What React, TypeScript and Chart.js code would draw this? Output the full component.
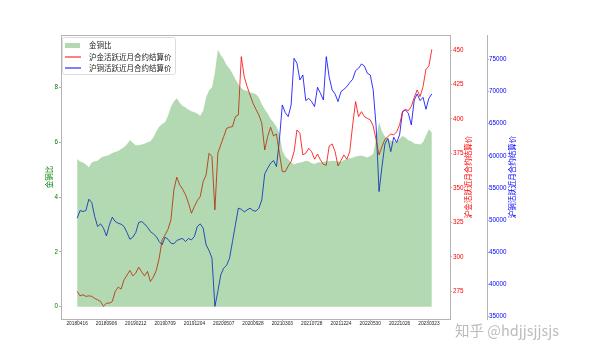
import React, { useEffect, useRef } from 'react';
import { Chart, registerables } from 'chart.js';

Chart.register(...registerables);

// x-axis tick labels, one every 100 trading days starting at index 0
const tickLabels = [
  '20180416', '20180906', '20190212', '20190709', '20191204', '20200507', '20200928',
  '20210303', '20210728', '20211224', '20220530', '20221026', '20230323',
];
const ratioTicks = [0, 2, 4, 6, 8];
const goldTicks = [275, 300, 325, 350, 375, 400, 425, 450];
const copperTicks = [35000, 40000, 45000, 50000, 55000, 60000, 65000, 70000, 75000];

// one sample every STEP trading days
const STEP = 10;

// 金铜比 (gold / copper ratio)
const goldCopperRatio = [
  5.39, 5.30, 5.26, 5.19, 5.09, 5.26, 5.31, 5.33, 5.43, 5.48,
  5.50, 5.55, 5.61, 5.65, 5.68, 5.76, 5.82, 5.93, 6.08, 5.99,
  5.89, 5.89, 5.92, 5.95, 6.00, 6.04, 6.18, 6.40, 6.57, 6.67,
  6.73, 6.97, 7.30, 7.49, 7.61, 7.45, 7.33, 7.27, 7.19, 7.14,
  7.10, 7.05, 6.97, 7.15, 7.64, 7.90, 8.00, 8.55, 9.38, 9.19,
  9.03, 8.82, 8.70, 8.51, 8.30, 8.12, 7.98, 7.90, 7.88, 7.82,
  7.79, 7.76, 7.64, 7.39, 7.21, 7.05, 6.85, 6.73, 6.57, 6.33,
  5.70, 5.48, 5.37, 5.27, 5.19, 5.24, 5.26, 5.28, 5.33, 5.31,
  5.24, 5.21, 5.26, 5.27, 5.28, 5.31, 5.31, 5.33, 5.32, 5.30,
  5.28, 5.36, 5.39, 5.42, 5.44, 5.48, 5.50, 5.52, 5.48, 5.45,
  5.50, 5.58, 6.12, 6.73, 6.40, 6.21, 6.11, 6.06, 6.04, 6.01,
  6.12, 6.23, 6.18, 6.08, 6.04, 5.96, 5.94, 5.92, 6.00, 6.24,
  6.48, 6.36,
];

// 沪金活跃近月合约结算价
const goldPrice = [
  274.9, 271.7, 272.5, 271.3, 271.7, 271.3, 269.8, 268.8, 267.6, 264.0,
  266.4, 266.4, 267.6, 274.9, 278.0, 276.6, 283.3, 286.7, 290.1, 286.2,
  288.2, 292.5, 289.1, 286.2, 289.4, 282.1, 285.3, 290.1, 299.0, 312.3,
  315.9, 320.0, 326.8, 348.6, 357.7, 352.2, 349.0, 344.9, 338.9, 331.6,
  336.5, 340.8, 343.7, 354.6, 359.4, 375.1, 372.7, 334.1, 375.1, 381.2,
  387.2, 393.2, 394.0, 394.4, 401.7, 402.9, 445.2, 430.7, 423.4, 417.4,
  411.4, 407.0, 402.9, 396.9, 377.5, 387.2, 394.0, 387.7, 389.1, 375.1,
  361.8, 361.8, 365.9, 369.1, 376.3, 392.0, 389.6, 373.9, 375.1, 378.7,
  376.3, 370.8, 374.6, 370.3, 367.1, 366.4, 380.4, 381.9, 376.3, 365.9,
  369.8, 373.9, 370.8, 376.3, 395.7, 412.6, 401.7, 405.3, 401.7, 400.5,
  399.3, 394.9, 384.8, 373.9, 380.0, 385.3, 387.2, 389.1, 388.4, 390.6,
  395.7, 405.3, 407.0, 406.0, 409.0, 415.7, 421.0, 416.2, 423.4, 436.0,
  438.4, 450.5,
];

// 沪铜活跃近月合约结算价
const copperPrice = [
  50306, 51497, 51341, 51497, 53257, 52739, 50565, 49012, 49426, 48753,
  47562, 49271, 50461, 49788, 49529, 49374, 49012, 48080, 47045, 47355,
  48080, 49633, 49788, 49426, 48908, 48235, 47873, 47459, 46682, 46164,
  47355, 47045, 46423, 46320, 46837, 47045, 47148, 46682, 47148, 46941,
  47459, 49012, 49426, 48753, 46164, 45284, 44094, 36600, 38917, 41505,
  42541, 43006, 44094, 46682, 49271, 51859, 51704, 51290, 51600, 51859,
  51497, 51393, 51859, 53153, 57191, 58072, 58848, 59262, 58330, 62472,
  67908, 66717, 66096, 67908, 75156, 74379, 71791, 72567, 68581, 68943,
  68426, 67649, 70652, 69720, 68684, 75414, 72205, 70237, 69616, 68426,
  69979, 70341, 70755, 71376, 71894, 73240, 73603, 74276, 73965, 72826,
  72567, 70237, 64543, 54448, 58330, 61851, 62731, 60660, 62886, 62058,
  63249, 66872, 67131, 66614, 64802, 68684, 69616, 68581, 69099, 67235,
  68943, 69616,
];

const seriesNames = ['金铜比', '沪金活跃近月合约结算价', '沪铜活跃近月合约结算价'];

const CJK = '"Noto Sans CJK SC", "DejaVu Sans", sans-serif';
const NUM = '"Liberation Sans", "DejaVu Sans", sans-serif';
const SPINE = '#b4b4b4';
const GREEN = '#008000';
const FILL = 'rgba(0,128,0,0.3)';
const RED = '#ff0000';
const BLUE = '#0000ff';

export default function App() {
  const ref = useRef<HTMLCanvasElement>(null);

  useEffect(() => {
    if (!ref.current) return;
    const toPts = (arr: number[]) => arr.map((v, i) => ({ x: i * STEP, y: v }));
    const fixTicks = (vals: number[]) => (s: any) => {
      s.ticks = vals.map((v) => ({ value: v }));
    };

    const overlay = {
      id: 'overlay',
      afterDraw(chart: any) {
        const { ctx, chartArea: ca, scales } = chart;
        ctx.save();
        // top spine
        ctx.strokeStyle = SPINE;
        ctx.lineWidth = 1;
        ctx.beginPath();
        ctx.moveTo(ca.left, Math.round(ca.top) + 0.5);
        ctx.lineTo(ca.right, Math.round(ca.top) + 0.5);
        ctx.stroke();

        // axis titles (rotated, reading bottom to top)
        const vTitle = (text: string, x: number, color: string) => {
          ctx.save();
          ctx.translate(x, (ca.top + ca.bottom) / 2);
          ctx.rotate(-Math.PI / 2);
          ctx.fillStyle = color;
          ctx.font = `7.5px ${CJK}`;
          ctx.textAlign = 'center';
          ctx.textBaseline = 'middle';
          ctx.fillText(text, 0, 0);
          ctx.restore();
        };
        vTitle(seriesNames[0], 49.5, GREEN);
        vTitle(seriesNames[1], scales.y1.left + 18.5, RED);
        vTitle(seriesNames[2], scales.y2.left + 25.5, BLUE);

        // legend (upper left inside the plot)
        const lx = ca.left + 1;
        const ly = ca.top + 2;
        ctx.fillStyle = 'rgba(255,255,255,0.8)';
        ctx.strokeStyle = '#dcdcdc';
        ctx.beginPath();
        (ctx as any).roundRect(lx + 0.5, ly + 0.5, 113, 37, 2);
        ctx.fill();
        ctx.stroke();
        ctx.fillStyle = FILL;
        ctx.fillRect(lx + 3, ly + 6, 15, 5);
        ctx.lineWidth = 1;
        ctx.strokeStyle = RED;
        ctx.beginPath();
        ctx.moveTo(lx + 3, ly + 20);
        ctx.lineTo(lx + 19, ly + 20);
        ctx.stroke();
        ctx.strokeStyle = BLUE;
        ctx.beginPath();
        ctx.moveTo(lx + 3, ly + 31);
        ctx.lineTo(lx + 19, ly + 31);
        ctx.stroke();
        ctx.fillStyle = '#222';
        ctx.font = `7.5px ${CJK}`;
        ctx.textAlign = 'left';
        ctx.textBaseline = 'middle';
        ctx.fillText(seriesNames[0], lx + 27, ly + 8.5);
        ctx.fillText(seriesNames[1], lx + 27, ly + 20);
        ctx.fillText(seriesNames[2], lx + 27, ly + 31);

        // watermark
        ctx.font = `14.5px ${CJK}`;
        ctx.fillStyle = 'rgba(175,175,175,0.85)';
        ctx.textAlign = 'left';
        ctx.textBaseline = 'middle';
        ctx.fillText('知乎 @hdjjsjjsjs', 455, 330);
        ctx.restore();
      },
    };

    const tickFont = { family: NUM, size: 6.3 };
    const plain = (v: any) => String(v);

    const chart = new Chart(ref.current, {
      type: 'line',
      data: {
        datasets: [
          {
            label: seriesNames[0],
            data: toPts(goldCopperRatio),
            yAxisID: 'y',
            fill: 'origin',
            backgroundColor: FILL,
            borderWidth: 0,
            borderColor: 'rgba(0,0,0,0)',
            pointRadius: 0,
            tension: 0,
          },
          {
            label: seriesNames[1],
            data: toPts(goldPrice),
            yAxisID: 'y1',
            fill: false,
            borderColor: RED,
            borderWidth: 0.8,
            pointRadius: 0,
            tension: 0,
          },
          {
            label: seriesNames[2],
            data: toPts(copperPrice),
            yAxisID: 'y2',
            fill: false,
            borderColor: BLUE,
            borderWidth: 0.8,
            pointRadius: 0,
            tension: 0,
          },
        ],
      },
      options: {
        responsive: false,
        animation: false,
        events: [],
        layout: { padding: { top: 35, left: 0, right: 0, bottom: 0 } },
        plugins: { legend: { display: false }, tooltip: { enabled: false } },
        scales: {
          x: {
            type: 'linear',
            min: -55,
            max: 1272,
            border: { display: true, color: SPINE },
            grid: { drawOnChartArea: false, drawTicks: true, tickLength: 2, color: SPINE },
            ticks: {
              autoSkip: false,
              maxRotation: 0,
              padding: 0,
              color: '#222',
              font: { family: NUM, size: 4.8 },
              callback: (v: any) => tickLabels[Math.round(Number(v) / 100)] ?? '',
            },
            afterBuildTicks: fixTicks(tickLabels.map((_, i) => i * 100)),
            afterFit: (s: any) => { s.height = 37; },
          },
          y: {
            type: 'linear',
            position: 'left',
            min: -0.45,
            max: 9.92,
            border: { display: true, color: SPINE },
            grid: { drawOnChartArea: false, drawTicks: true, tickLength: 2, color: SPINE },
            ticks: { color: GREEN, font: tickFont, padding: 1, callback: plain },
            afterBuildTicks: fixTicks(ratioTicks),
            afterFit: (s: any) => { s.width = 61; },
          },
          y1: {
            type: 'linear',
            position: 'right',
            weight: 0,
            min: 254.9,
            max: 460.9,
            border: { display: true, color: SPINE },
            grid: { drawOnChartArea: false, drawTicks: true, tickLength: 2, color: SPINE },
            ticks: { color: RED, font: tickFont, padding: 1, callback: plain },
            afterBuildTicks: fixTicks(goldTicks),
            afterFit: (s: any) => { s.width = 37; },
          },
          y2: {
            type: 'linear',
            position: 'right',
            weight: 1,
            min: 34643,
            max: 78776,
            border: { display: true, color: SPINE },
            grid: { drawOnChartArea: false, drawTicks: true, tickLength: 2, color: SPINE },
            ticks: { color: BLUE, font: tickFont, padding: 0, callback: plain },
            afterBuildTicks: fixTicks(copperTicks),
            afterFit: (s: any) => { s.width = 113; },
          },
        },
      },
      plugins: [overlay],
    });

    return () => chart.destroy();
  }, []);

  return (
    <div style={{ position: 'fixed', left: 0, top: 0, width: 600, height: 356, background: '#fff' }}>
      <canvas ref={ref} width={600} height={356} style={{ width: 600, height: 356, display: 'block' }} />
    </div>
  );
}
